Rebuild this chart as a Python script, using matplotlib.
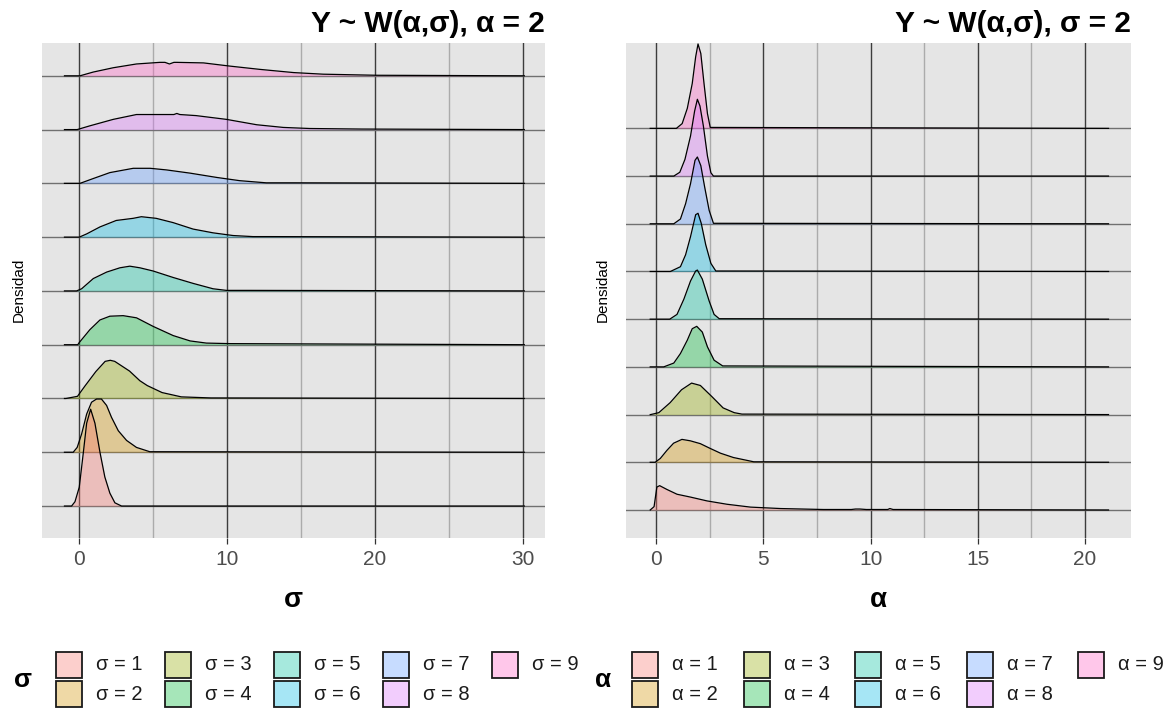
import matplotlib
matplotlib.use("Agg")
import matplotlib.pyplot as plt
from matplotlib.patches import Rectangle

plt.rcParams["font.family"] = ["Liberation Sans", "DejaVu Sans"]

# hue palette of ggplot for 9 levels
COLORS = ["#F8766D", "#D39200", "#93AA00", "#00BA38", "#00C19F",
          "#00B9E3", "#619CFF", "#DB72FB", "#FF61C3"]
FILL_ALPHA = 0.35

# left panel: alpha = 2, sigma = 1..9 ; heights in row units (1 = spacing between ridges)
sigma_labels = ["σ = 1", "σ = 2", "σ = 3", "σ = 4", "σ = 5", "σ = 6", "σ = 7", "σ = 8", "σ = 9"]
sigma_x = [
    [-1.0, -0.52, -0.29, 0.0, 0.27, 0.5, 0.77, 1.06, 1.4, 1.73, 2.07, 2.41, 2.86, 30.1],
    [-1.0, -0.41, -0.14, 0.16, 0.5, 0.83, 1.17, 1.5, 1.85, 2.18, 2.64, 3.2, 3.87, 4.77, 30.1],
    [-1.0, -0.9, -0.12, 0.38, 1.12, 1.75, 2.1, 2.4, 3.4, 4.1, 4.6, 5.6, 6.9, 8.9, 30.1],
    [-1.0, -0.1, 0.0, 0.72, 1.4, 2.07, 2.97, 3.87, 5.0, 6.35, 7.5, 8.6, 10.2, 30.1],
    [-1.0, -0.18, 0.16, 0.95, 1.85, 2.75, 3.42, 4.1, 5.0, 6.35, 7.7, 9.05, 9.95, 11.5, 30.1],
    [-1.0, 0.0, 0.5, 1.4, 2.5, 3.65, 4.2, 5.2, 6.35, 7.7, 9.05, 10.4, 11.75, 12.9, 30.1],
    [-1.0, 0.05, 0.95, 2.07, 3.65, 4.8, 5.9, 7.5, 9.3, 10.85, 12.65, 14.5, 30.1],
    [-1.0, -0.14, 0.72, 2.3, 3.87, 5.45, 6.4, 6.6, 6.8, 7.9, 9.95, 12.0, 13.8, 15.6, 19.1, 30.1],
    [-1.0, 0.05, 0.95, 2.3, 3.87, 5.45, 5.8, 6.1, 6.4, 6.6, 8.4, 10.2, 12.2, 14.5, 16.5, 20.1, 30.1],
]
sigma_h = [
    [0, 0, 0.08, 0.35, 0.98, 1.54, 1.80, 1.54, 1.00, 0.54, 0.24, 0.06, 0, 0],
    [0, 0, 0.09, 0.34, 0.71, 0.93, 0.99, 0.99, 0.87, 0.65, 0.40, 0.22, 0.09, 0.01, 0],
    [0, 0, 0.04, 0.23, 0.50, 0.69, 0.71, 0.69, 0.51, 0.33, 0.24, 0.11, 0.03, 0.01, 0],
    [0, 0, 0.04, 0.28, 0.46, 0.53, 0.54, 0.50, 0.34, 0.17, 0.07, 0.03, 0.02, 0],
    [0, 0, 0.04, 0.23, 0.35, 0.43, 0.46, 0.43, 0.37, 0.25, 0.14, 0.04, 0.01, 0.01, 0],
    [0, 0, 0.06, 0.19, 0.31, 0.35, 0.38, 0.35, 0.27, 0.15, 0.08, 0.03, 0.01, 0.01, 0],
    [0, 0, 0.09, 0.20, 0.28, 0.28, 0.25, 0.19, 0.11, 0.05, 0.01, 0.01, 0],
    [0, 0, 0.07, 0.19, 0.28, 0.28, 0.28, 0.30, 0.28, 0.26, 0.19, 0.09, 0.04, 0.02, 0.01, 0],
    [0, 0, 0.07, 0.15, 0.22, 0.25, 0.25, 0.22, 0.25, 0.25, 0.24, 0.18, 0.12, 0.06, 0.03, 0.01, 0],
]

# right panel: sigma = 2, alpha = 1..9
alpha_labels = ["α = 1", "α = 2", "α = 3", "α = 4", "α = 5", "α = 6", "α = 7", "α = 8", "α = 9"]
alpha_x = [
    [-0.28, -0.1, 0.03, 0.16, 0.5, 0.97, 1.6, 2.37, 3.3, 4.4, 5.8, 7.8, 9.1, 9.3, 9.5, 9.8,
     10.0, 10.8, 10.9, 11.05, 21.1],
    [-0.28, -0.05, 0.19, 0.5, 0.81, 1.2, 1.59, 2.06, 2.52, 3.0, 3.6, 4.55, 21.1],
    [-0.28, -0.26, 0.12, 0.65, 1.18, 1.65, 2.06, 2.59, 3.12, 3.64, 4.0, 21.1],
    [-0.28, 0.35, 0.82, 1.13, 1.45, 1.68, 1.89, 2.15, 2.39, 2.7, 3.1, 21.1],
    [-0.28, 0.63, 0.97, 1.29, 1.6, 1.84, 1.92, 2.15, 2.47, 2.7, 2.94, 21.1],
    [-0.28, 0.66, 1.13, 1.37, 1.6, 1.84, 1.95, 2.1, 2.31, 2.55, 2.78, 21.1],
    [-0.28, 0.82, 1.13, 1.37, 1.6, 1.81, 1.92, 2.08, 2.26, 2.47, 2.67, 21.1],
    [-0.28, 0.82, 1.1, 1.34, 1.6, 1.79, 1.92, 2.04, 2.2, 2.39, 2.55, 2.67, 21.1],
    [-0.28, 0.94, 1.21, 1.45, 1.68, 1.84, 1.95, 2.08, 2.23, 2.39, 2.52, 21.1],
]
alpha_h = [
    [0, 0.07, 0.48, 0.51, 0.43, 0.33, 0.27, 0.19, 0.12, 0.06, 0.03, 0.01, 0.01, 0.02, 0.02, 0.01,
     0.01, 0.01, 0.03, 0.01, 0],
    [0, 0, 0.08, 0.25, 0.40, 0.48, 0.45, 0.39, 0.29, 0.19, 0.10, 0.01, 0],
    [0, 0, 0.04, 0.25, 0.52, 0.66, 0.61, 0.38, 0.14, 0.04, 0.01, 0],
    [0, 0, 0.08, 0.28, 0.56, 0.80, 0.85, 0.73, 0.42, 0.14, 0.02, 0],
    [0, 0, 0.10, 0.42, 0.80, 1.01, 1.03, 0.84, 0.38, 0.10, 0.01, 0],
    [0, 0, 0.10, 0.35, 0.73, 1.19, 1.22, 1.01, 0.56, 0.17, 0.01, 0],
    [0, 0, 0.10, 0.42, 0.84, 1.33, 1.40, 1.22, 0.77, 0.28, 0.01, 0],
    [0, 0, 0.08, 0.35, 0.84, 1.36, 1.61, 1.47, 1.05, 0.42, 0.07, 0, 0],
    [0, 0, 0.10, 0.42, 0.94, 1.50, 1.77, 1.57, 0.94, 0.31, 0.02, 0],
]

W, H = 1170, 713


def px_axes(fig, x0, y0, x1, y1):
    return fig.add_axes([x0 / W, 1 - y1 / H, (x1 - x0) / W, (y1 - y0) / H])


def draw_ridges(ax, xs, hs, xlim, ylim, major, minor, title, xlabel):
    ax.set_facecolor("#E5E5E5")
    n = len(xs)
    for i in range(n):
        z = 10 + 2 * (n - i)
        ax.fill_between(xs[i], i, [i + h for h in hs[i]], color=COLORS[i],
                        alpha=FILL_ALPHA, lw=0, zorder=z)
        ax.plot(xs[i], [i + h for h in hs[i]], color="black", lw=0.9, zorder=z + 1)
    ax.set_xlim(*xlim)
    ax.set_ylim(*ylim)
    ax.set_xticks(major)
    ax.set_xticks(minor, minor=True)
    ax.set_yticks(range(n))
    ax.set_yticklabels([])
    ax.grid(which="major", axis="x", color="#3C3C3C", lw=1.0, zorder=1)
    ax.grid(which="minor", axis="x", color="#ABABAB", lw=1.0, zorder=1)
    ax.grid(which="major", axis="y", color="#707070", lw=1.0, zorder=1)
    ax.set_axisbelow(True)
    for s in ax.spines.values():
        s.set_visible(False)
    ax.tick_params(axis="x", which="major", length=4, width=0.9, color="#333333",
                   labelsize=15, labelcolor="#4D4D4D", pad=5)
    ax.tick_params(axis="x", which="minor", length=0)
    ax.tick_params(axis="y", length=0)
    ax.set_xlabel(xlabel, fontsize=20, fontweight="bold", labelpad=13)
    ax.set_ylabel("Densidad", fontsize=11, labelpad=8)
    ax.set_title(title, loc="right", fontsize=21.5, fontweight="bold", pad=8)


def draw_legend(fig, title, title_x, box_x0, col_w, labels):
    for k, lab in enumerate(labels):
        col, row = divmod(k, 2)
        bx = box_x0 + col * col_w
        by = 652 + row * 29
        fig.patches.append(Rectangle((bx / W, 1 - (by + 26) / H), 26 / W, 26 / H,
                                     transform=fig.transFigure, facecolor=COLORS[k],
                                     alpha=FILL_ALPHA, edgecolor="none"))
        fig.patches.append(Rectangle((bx / W, 1 - (by + 26) / H), 26 / W, 26 / H,
                                     transform=fig.transFigure, facecolor="none",
                                     edgecolor="#1A1A1A", lw=1.3))
        fig.text((bx + 40) / W, 1 - (by + 13) / H, lab, fontsize=14.5, color="#1A1A1A",
                 ha="left", va="center")
    fig.text(title_x / W, 1 - 680 / H, title, fontsize=19, fontweight="bold",
             ha="center", va="center")


fig = plt.figure(figsize=(W / 100, H / 100), dpi=100)

ax1 = px_axes(fig, 42, 43, 545, 537.5)
draw_ridges(ax1, sigma_x, sigma_h, (-2.52, 31.5), (-0.585, 8.61),
            [0, 10, 20, 30], [5, 15, 25], "Y ~ W(α,σ), α = 2", "σ")

ax2 = px_axes(fig, 626, 43, 1131, 537.5)
draw_ridges(ax2, alpha_x, alpha_h, (-1.41, 22.15), (-0.577, 9.79),
            [0, 5, 10, 15, 20], [2.5, 7.5, 12.5, 17.5], "Y ~ W(α,σ), σ = 2", "α")

draw_legend(fig, "σ", 23, 56, 109, sigma_labels)
# right legend nudged a little left so that its last label fits in the figure
draw_legend(fig, "α", 603, 632, 111.5, alpha_labels)

fig.savefig("out.png", dpi=100)
